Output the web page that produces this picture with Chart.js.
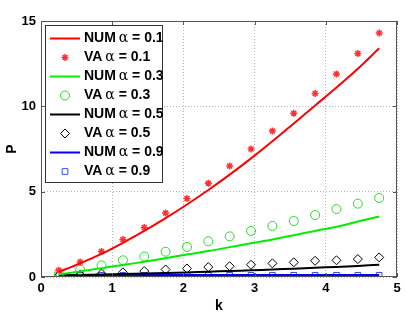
<!DOCTYPE html>
<html>
<head>
<meta charset="utf-8">
<script src="https://cdn.jsdelivr.net/npm/chart.js@4/dist/chart.umd.min.js"></script>
<style>
  html, body { margin: 0; padding: 0; background: #fff; }
  #wrap { width: 407px; height: 326px; }
</style>
</head>
<body>
<div id="wrap"><canvas id="chart" width="407" height="326"></canvas></div>
<script>
// k values shared by every series
const kValues = [0.25, 0.55, 0.85, 1.15, 1.45, 1.75, 2.05, 2.35, 2.65, 2.95, 3.25, 3.55, 3.85, 4.15, 4.45, 4.75];

// alpha = 0.1
const num01 = [0.3, 0.8, 1.35, 2.0, 2.7, 3.45, 4.25, 5.1, 6.0, 6.95, 7.95, 9.0, 10.05, 11.1, 12.2, 13.4];
const va01  = [0.4, 0.88, 1.5, 2.2, 2.9, 3.75, 4.6, 5.5, 6.5, 7.5, 8.55, 9.6, 10.75, 11.9, 13.1, 14.3];
// alpha = 0.3
const num03 = [0.15, 0.33, 0.52, 0.7, 0.9, 1.1, 1.32, 1.52, 1.75, 1.98, 2.2, 2.45, 2.7, 2.95, 3.25, 3.55];
const va03  = [0.2, 0.43, 0.68, 0.98, 1.2, 1.48, 1.76, 2.09, 2.38, 2.7, 2.99, 3.28, 3.63, 3.98, 4.3, 4.63];
// alpha = 0.5
const num05 = [0.1, 0.12, 0.14, 0.17, 0.2, 0.23, 0.27, 0.31, 0.35, 0.39, 0.44, 0.49, 0.54, 0.59, 0.65, 0.72];
const va05  = [0.08, 0.14, 0.2, 0.27, 0.35, 0.44, 0.5, 0.58, 0.63, 0.72, 0.8, 0.86, 0.95, 0.98, 1.05, 1.15];
// alpha = 0.9
const num09 = [0.11, 0.11, 0.11, 0.11, 0.11, 0.11, 0.11, 0.11, 0.11, 0.11, 0.11, 0.11, 0.11, 0.11, 0.11, 0.11];
const va09  = [0.1, 0.1, 0.1, 0.1, 0.1, 0.1, 0.1, 0.1, 0.1, 0.1, 0.1, 0.1, 0.1, 0.1, 0.1, 0.1];

const xTicks = [0, 1, 2, 3, 4, 5];
const yTicks = [0, 5, 10, 15];

const FONT = "'Liberation Sans', Arial, sans-serif";

function pts(vals) {
  return kValues.map((k, i) => ({ x: k, y: vals[i] }));
}

function numSet(alpha, vals, color) {
  return {
    label: "NUM|" + alpha,
    data: pts(vals),
    showLine: true,
    borderColor: color,
    backgroundColor: color,
    borderWidth: 2,
    pointRadius: 0,
    tension: 0.3
  };
}

function vaSet(alpha, vals, color, style, r, bw) {
  return {
    label: "VA|" + alpha,
    data: pts(vals),
    showLine: false,
    borderColor: color,
    backgroundColor: "rgba(0,0,0,0)",
    borderWidth: bw,
    pointStyle: style,
    pointRadius: r
  };
}

const datasets = [
  numSet("0.1", num01, "#ff0000"),
  vaSet("0.1", va01, "#ff3030", "star", 3.5, 1.5),
  numSet("0.3", num03, "#00ee00"),
  vaSet("0.3", va03, "#22dd22", "circle", 4.5, 1),
  numSet("0.5", num05, "#000000"),
  vaSet("0.5", va05, "#000000", "rectRot", 4.5, 1),
  numSet("0.9", num09, "#0000ff"),
  vaSet("0.9", va09, "#3344ff", "rect", 4, 1)
];

// box, inward ticks and legend drawn inside the plot like MATLAB
const matlabFrame = {
  id: "matlabFrame",
  afterDraw(chart) {
    const { ctx, chartArea: a, scales } = chart;
    ctx.save();
    ctx.strokeStyle = "#555";
    ctx.lineWidth = 1;
    ctx.setLineDash([]);
    ctx.strokeRect(a.left + 0.5, a.top + 0.5, a.right - a.left - 1, a.bottom - a.top - 1);

    // inward ticks
    ctx.beginPath();
    xTicks.forEach(v => {
      const x = Math.round(scales.x.getPixelForValue(v)) + 0.5;
      ctx.moveTo(x, a.bottom); ctx.lineTo(x, a.bottom - 4);
      ctx.moveTo(x, a.top); ctx.lineTo(x, a.top + 4);
    });
    yTicks.forEach(v => {
      const y = Math.round(scales.y.getPixelForValue(v)) + 0.5;
      ctx.moveTo(a.left, y); ctx.lineTo(a.left + 4, y);
      ctx.moveTo(a.right, y); ctx.lineTo(a.right - 4, y);
    });
    ctx.stroke();

    // legend
    const bx = 45.5, by = 25.5, bw = 117, bh = 157;
    ctx.fillStyle = "#fff";
    ctx.fillRect(bx, by, bw, bh);
    ctx.strokeStyle = "#333";
    ctx.strokeRect(bx, by, bw, bh);

    ctx.textBaseline = "middle";
    chart.data.datasets.forEach((ds, i) => {
      const y = 38.5 + i * 19;
      if (ds.showLine) {
        ctx.strokeStyle = ds.borderColor;
        ctx.lineWidth = 2;
        ctx.beginPath();
        ctx.moveTo(50, y); ctx.lineTo(80, y);
        ctx.stroke();
      } else {
        ctx.save();
        ctx.strokeStyle = ds.borderColor;
        ctx.fillStyle = "rgba(0,0,0,0)";
        ctx.lineWidth = ds.borderWidth;
        Chart.helpers.drawPoint(ctx, {
          pointStyle: ds.pointStyle,
          radius: ds.pointRadius,
          rotation: 0,
          borderWidth: ds.borderWidth
        }, 65, y);
        ctx.restore();
      }
      const parts = ds.label.split("|");
      ctx.fillStyle = "#000";
      let x = 84;
      ctx.font = "bold 14px " + FONT;
      ctx.fillText(parts[0] + " ", x, y);
      x += ctx.measureText(parts[0] + " ").width - 1;
      ctx.font = "14px 'DejaVu Serif', serif";
      ctx.fillText("\u03b1", x, y);
      x += ctx.measureText("\u03b1").width;
      ctx.font = "bold 14px " + FONT;
      ctx.fillText(" = " + parts[1], x, y);
    });
    ctx.restore();
  }
};

new Chart(document.getElementById("chart"), {
  type: "scatter",
  data: { datasets: datasets },
  options: {
    responsive: false,
    animation: false,
    layout: { padding: { top: 21, right: 10, left: 0, bottom: 0 } },
    plugins: {
      legend: { display: false },
      tooltip: { enabled: false }
    },
    scales: {
      x: {
        type: "linear",
        min: 0, max: 5,
        afterBuildTicks: s => { s.ticks = xTicks.map(v => ({ value: v })); },
        afterFit: s => { s.height = 49; },
        ticks: {
          color: "#000",
          padding: 4,
          font: { family: FONT, size: 13, weight: "bold" }
        },
        grid: { color: "#b5b5b5", lineWidth: 1, drawTicks: false },
        border: { display: false, dash: [1, 2] },
        title: {
          display: true, text: "k", color: "#000",
          padding: { top: 0, bottom: 11 },
          font: { family: FONT, size: 14, weight: "bold" }
        }
      },
      y: {
        type: "linear",
        min: 0, max: 15,
        afterBuildTicks: s => { s.ticks = yTicks.map(v => ({ value: v })); },
        afterFit: s => { s.width = 41; },
        ticks: {
          color: "#000",
          padding: 5,
          font: { family: FONT, size: 13, weight: "bold" }
        },
        grid: { color: "#b5b5b5", lineWidth: 1, drawTicks: false },
        border: { display: false, dash: [1, 2] },
        title: {
          display: true, text: "P", color: "#000",
          padding: { bottom: 0 },
          font: { family: FONT, size: 14, weight: "bold" }
        }
      }
    }
  },
  plugins: [matlabFrame]
});
</script>
</body>
</html>
